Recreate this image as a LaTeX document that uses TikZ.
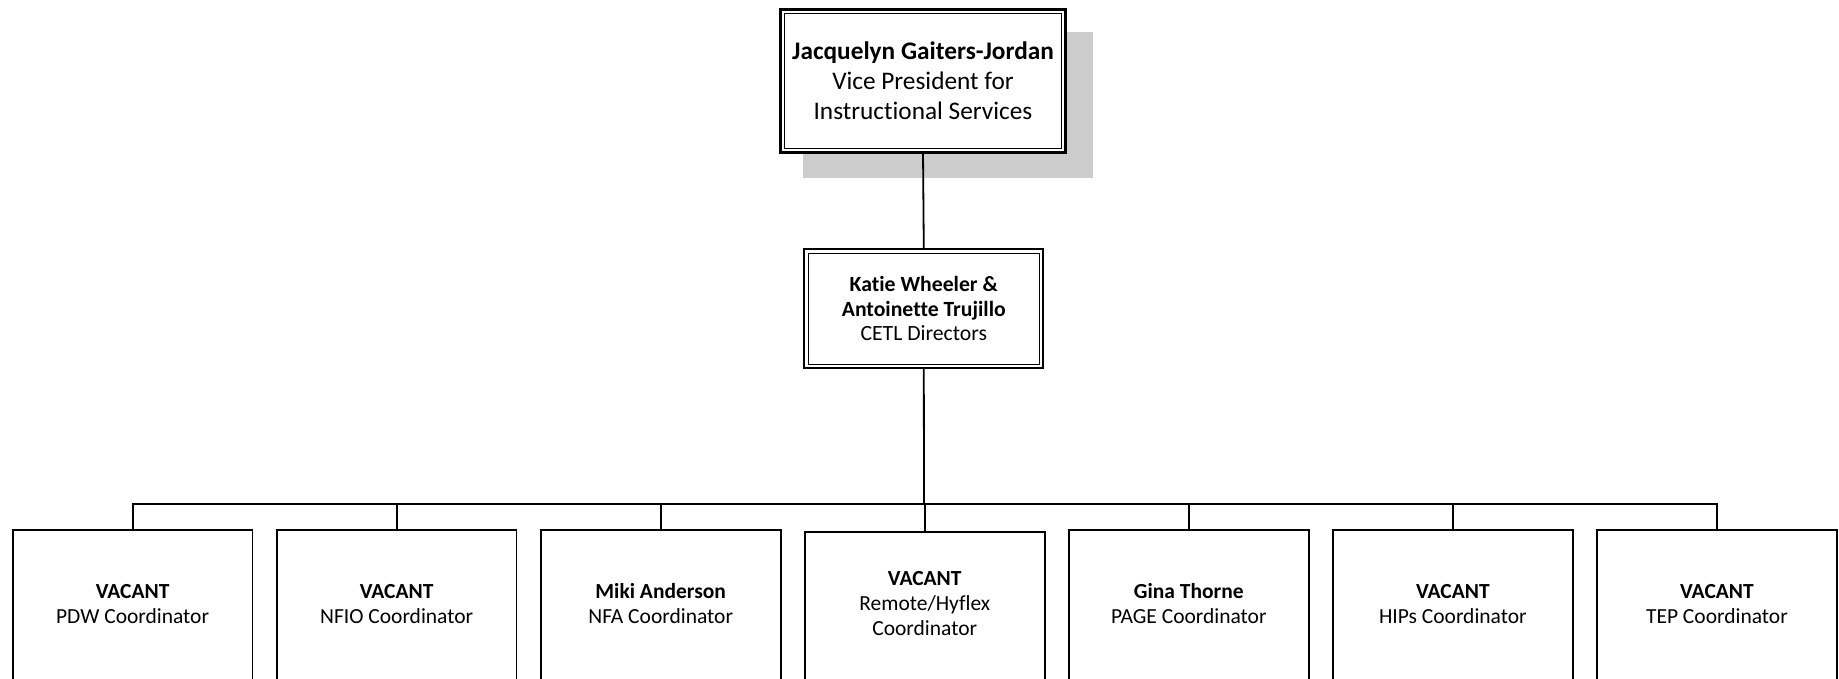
\documentclass[tikz,border=0pt]{standalone}
\usepackage{fontspec}
\setmainfont{Carlito}[Ligatures={NoCommon,NoRequired,NoContextual}]
\begin{document}
\begin{tikzpicture}[x=1pt,y=-1pt,
  conn/.style={line width=1.8pt},
  vpbox/.style={draw, line width=2.6pt, fill=white, minimum width=285pt, minimum height=143pt, inner sep=0pt, outer sep=0pt},
  dirbox/.style={draw, line width=2pt, fill=white, minimum width=239pt, minimum height=119pt, inner sep=0pt, outer sep=0pt},
  coordbox/.style={draw, line width=1.8pt, fill=white, minimum width=239.8pt, minimum height=200pt, inner sep=0pt, outer sep=0pt, anchor=north},
  vptext/.style={align=center, font=\fontsize{25.3}{30}\selectfont},
  dirtext/.style={align=center, font=\fontsize{21.7}{24.5}\selectfont},
  cotext/.style={align=center, font=\fontsize{21.5}{25}\selectfont}
]
\useasboundingbox (0,0) rectangle (1839,679);
\clip (0,0) rectangle (1839,679);

% shadow of top box
\fill[black!20] (802.7,31.7) rectangle (1092.7,177.7);

% top box
\node[vpbox] (vp) at (923,81) {};
\draw[line width=1.2pt] ([shift={(4,4)}]vp.north west) rectangle ([shift={(-4,-4)}]vp.south east);
\node[vptext] (vpt) at (923,81) {\textbf{Jacquelyn Gaiters-Jordan}\\Vice President for\\Instructional Services};

% directors box
\node[dirbox] (dir) at (923.8,308.8) {};
\draw[line width=1pt] ([shift={(4,4)}]dir.north west) rectangle ([shift={(-4,-4)}]dir.south east);
\node[dirtext] (dirt) at (923.8,308.8) {\textbf{Katie Wheeler \&}\\\textbf{Antoinette Trujillo}\\CETL Directors};

\draw[conn] (vp.south) -- (dir.north);

% coordinator boxes
\foreach \i/\top in {1/530.2,2/530.2,3/530.2,4/532,5/530.2,6/530.2,7/530.2}{
  \pgfmathsetmacro{\xx}{132.6+264.05*(\i-1)}
  \node[coordbox] (b\i) at (\xx,\top) {};
  \coordinate (j\i) at (\xx,504.3);
}
\coordinate (jc) at (924,504.3);

\node[cotext] (t1) at (b1.north |- 0,604) {\textbf{VACANT}\\PDW Coordinator};
\node[cotext] (t2) at (b2.north |- 0,604) {\textbf{VACANT}\\NFIO Coordinator};
\node[cotext] (t3) at (b3.north |- 0,604) {\textbf{Miki Anderson}\\NFA Coordinator};
\node[cotext] (t4) at (b4.north |- 0,604) {\textbf{VACANT}\\Remote/Hyflex\\Coordinator};
\node[cotext] (t5) at (b5.north |- 0,604) {\textbf{Gina Thorne}\\PAGE Coordinator};
\node[cotext] (t6) at (b6.north |- 0,604) {\textbf{VACANT}\\HIPs Coordinator};
\node[cotext] (t7) at (b7.north |- 0,604) {\textbf{VACANT}\\TEP Coordinator};

% connectors
\draw[conn] (dir.south) -- (jc);
\draw[conn] ([xshift=-0.9pt]j1) -- ([xshift=0.9pt]j7);
\foreach \i in {1,...,7}{
  \draw[conn] (j\i) -- (b\i.north);
}
\end{tikzpicture}
\end{document}
